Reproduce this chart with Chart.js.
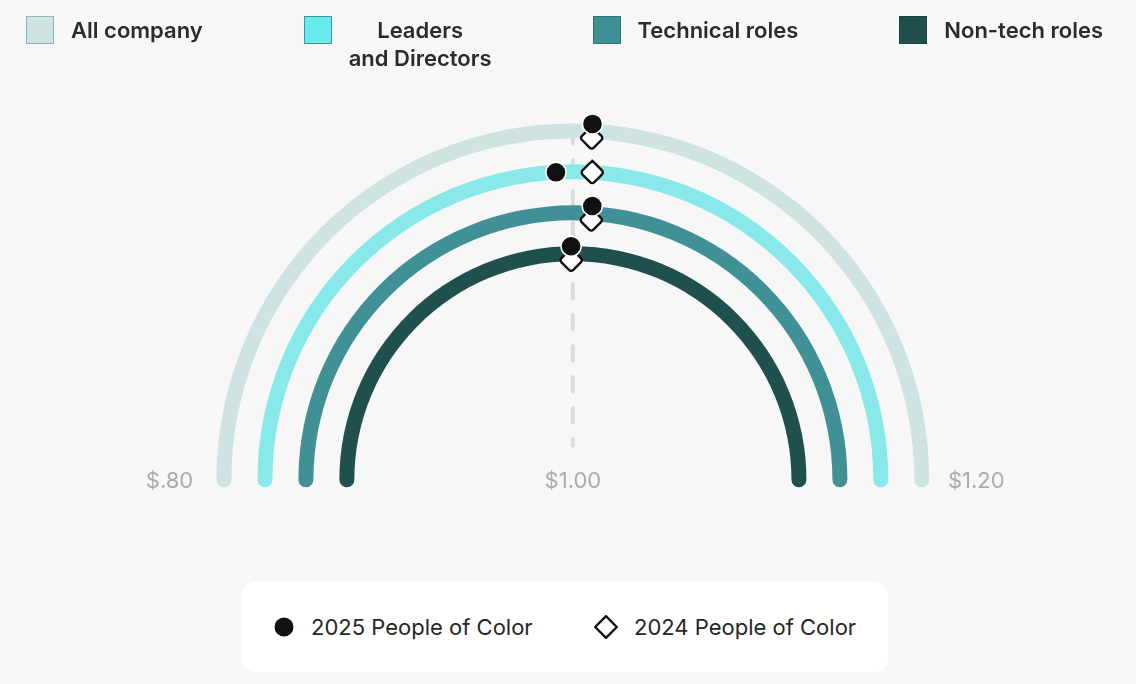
<!DOCTYPE html>
<html>
<head>
<meta charset="utf-8">
<script src="https://cdn.jsdelivr.net/npm/chart.js@4.4.1/dist/chart.umd.min.js"></script>
<style>
  html, body { margin: 0; padding: 0; background: #f7f7f7; }
  #wrap { position: relative; width: 1136px; height: 684px; overflow: hidden; font-family: Inter, "Noto Sans", sans-serif; }
  #chart { position: absolute; left: 0; top: 0; width: 1136px; height: 684px; }
  #topLegend { position: absolute; left: 26px; right: 33px; top: 16px; display: flex; justify-content: space-between; align-items: flex-start; }
  .item { display: flex; align-items: flex-start; }
  .sw { width: 28px; height: 28px; box-sizing: border-box; border: 1px solid; margin-right: 17px; flex: none; }
  .lbl { font-size: 22px; font-weight: 600; color: #2b2b2b; line-height: 28px; text-align: center; white-space: pre; }
  #bottomLegend { position: absolute; left: 242px; top: 582px; width: 646px; height: 90px; background: #ffffff; border-radius: 14px; }
  .bitem { position: absolute; top: 0; height: 90px; display: flex; align-items: center; font-size: 22px; color: #262626; white-space: nowrap; }
  .bitem svg { flex: none; }
</style>
</head>
<body>
<div id="wrap">
  <canvas id="chart" width="1136" height="684"></canvas>
  <div id="topLegend"></div>
  <div id="bottomLegend"></div>
</div>
<script>
// ---------- data ----------
const categories = ['All company', 'Leaders\nand Directors', 'Technical roles', 'Non-tech roles'];
const poc2025 = [1.007, 0.993, 1.009, 0.999];
const poc2024 = [1.007, 1.008, 1.009, 0.999];
const tickValues = [0.80, 1.00, 1.20];
const tickLabels = ['$.80', '$1.00', '$1.20'];
const seriesNames = ['2025 People of Color', '2024 People of Color'];

// ---------- style ----------
const ringColors   = ['#cfe3e3', '#89e9ea', '#3f9195', '#1f504d'];
const swatchColors = ['#cfe3e3', '#6beaee', '#3f9195', '#1f504d'];
const swatchBorders = ['#8fb5b7', '#3d9a9c', '#2f7377', '#1a4240'];
const RING_W = 15, GAP_W = 26;
const R_OUT = 356.8;
const CAP = RING_W / 2;

const vMin = tickValues[0], vMax = tickValues[tickValues.length - 1];
function valueAngle(v) { return Math.PI + (v - vMin) / (vMax - vMin) * Math.PI; }

// datasets: rings (even indexes) with transparent spacers between them
const datasets = [];
categories.forEach((c, i) => {
  if (i > 0) {
    datasets.push({ data: [1], backgroundColor: 'rgba(0,0,0,0)', hoverBackgroundColor: 'rgba(0,0,0,0)', weight: GAP_W,
      borderWidth: 0, hoverBorderWidth: 0, hoverOffset: 0, offset: 0 });
  }
  const mid = R_OUT - CAP - i * (RING_W + GAP_W);
  const ext = CAP / mid * 180 / Math.PI;
  datasets.push({ label: c.replace('\n', ' '), data: [1], backgroundColor: ringColors[i],
    hoverBackgroundColor: ringColors[i], weight: RING_W, borderRadius: CAP,
    borderWidth: 0, hoverBorderWidth: 0, hoverOffset: 0, offset: 0,
    rotation: -90 - ext, circumference: 180 + 2 * ext });
});

function ringGeom(chart, i) {
  const arc = chart.getDatasetMeta(i * 2).data[0];
  return { x: arc.x, y: arc.y, r: (arc.innerRadius + arc.outerRadius) / 2, outer: arc.outerRadius };
}

function drawCircle(ctx, x, y) {
  ctx.beginPath();
  ctx.arc(x, y, 10.8, 0, Math.PI * 2);
  ctx.fillStyle = '#ffffff';
  ctx.fill();
  ctx.beginPath();
  ctx.arc(x, y, 9.3, 0, Math.PI * 2);
  ctx.fillStyle = '#111111';
  ctx.fill();
}
function drawDiamond(ctx, x, y) {
  const h = 11.8, rc = 3;
  ctx.beginPath();
  ctx.moveTo(x, y - h + 0.01);
  ctx.arcTo(x + h, y, x, y + h, rc);
  ctx.arcTo(x, y + h, x - h, y, rc);
  ctx.arcTo(x - h, y, x, y - h, rc);
  ctx.arcTo(x, y - h, x + h, y, rc);
  ctx.closePath();
  ctx.fillStyle = '#ffffff';
  ctx.fill();
  ctx.lineWidth = 2.4;
  ctx.lineJoin = 'round';
  ctx.strokeStyle = '#111111';
  ctx.stroke();
}

const gaugePlugin = {
  id: 'gauge',
  beforeDatasetsDraw(chart) {
    const ctx = chart.ctx;
    const g0 = ringGeom(chart, 0);
    const a = valueAngle(1.0);
    const x = g0.x + Math.cos(a) * 0;
    ctx.save();
    ctx.strokeStyle = '#dcdcdc';
    ctx.lineWidth = 4;
    ctx.lineCap = 'round';
    ctx.setLineDash([14.5, 16.5]);
    ctx.lineDashOffset = 2;
    ctx.beginPath();
    ctx.moveTo(x, g0.y - g0.r);
    ctx.lineTo(x, g0.y - 34);
    ctx.stroke();
    ctx.restore();
  },
  afterDatasetsDraw(chart) {
    const ctx = chart.ctx;
    ctx.save();
    categories.forEach((c, i) => {
      const g = ringGeom(chart, i);
      const same = Math.abs(poc2025[i] - poc2024[i]) < 0.002;
      const rC = same ? g.r + 7.5 : g.r;
      const rD = same ? g.r - 6.5 : g.r;
      const a24 = valueAngle(poc2024[i]);
      const a25 = valueAngle(poc2025[i]);
      drawDiamond(ctx, g.x + Math.cos(a24) * rD, g.y + Math.sin(a24) * rD);
      drawCircle(ctx, g.x + Math.cos(a25) * rC, g.y + Math.sin(a25) * rC);
    });
    // tick labels along the baseline
    const g0 = ringGeom(chart, 0);
    ctx.font = '22px Inter, "Noto Sans", sans-serif';
    ctx.fillStyle = '#ababab';
    ctx.textAlign = 'center';
    ctx.textBaseline = 'alphabetic';
    tickValues.forEach((v, k) => {
      const a = valueAngle(v);
      ctx.fillText(tickLabels[k], g0.x + Math.cos(a) * (g0.outer + 47), g0.y + 8.5);
    });
    ctx.restore();
  }
};

new Chart(document.getElementById('chart'), {
  type: 'doughnut',
  data: { labels: ['ring'], datasets },
  options: {
    responsive: false,
    animation: false,
    events: [],
    rotation: -90,
    circumference: 180,
    cutout: ((R_OUT - 4 * RING_W - 3 * GAP_W) / R_OUT * 100) + '%',
    layout: { padding: { left: 216.5, right: 206.7, top: 122.5, bottom: 191.5 } },
    plugins: { legend: { display: false }, tooltip: { enabled: false } }
  },
  plugins: [gaugePlugin]
});

// ---------- HTML legends ----------
const topLegendEl = document.getElementById('topLegend');
categories.forEach((c, i) => {
  const it = document.createElement('div');
  it.className = 'item';
  const sw = document.createElement('div');
  sw.className = 'sw';
  sw.style.background = swatchColors[i];
  sw.style.borderColor = swatchBorders[i];
  const lb = document.createElement('div');
  lb.className = 'lbl';
  lb.textContent = c;
  it.appendChild(sw); it.appendChild(lb);
  topLegendEl.appendChild(it);
});

const bottomLegendEl = document.getElementById('bottomLegend');
const icons = [
  '<svg width="20" height="20" viewBox="0 0 20 20"><circle cx="10" cy="10" r="9.5" fill="#111"/></svg>',
  '<svg width="26" height="26" viewBox="0 0 26 26"><path d="M13 2.2 L23.8 13 L13 23.8 L2.2 13 Z" fill="#fff" stroke="#111" stroke-width="2.4" stroke-linejoin="round"/></svg>'
];
const lefts = [32, 351];
const gaps = [17, 15];
seriesNames.forEach((n, i) => {
  const it = document.createElement('div');
  it.className = 'bitem';
  it.style.left = lefts[i] + 'px';
  it.innerHTML = icons[i] + '<span style="margin-left:' + gaps[i] + 'px">' + n + '</span>';
  bottomLegendEl.appendChild(it);
});
</script>
</body>
</html>
